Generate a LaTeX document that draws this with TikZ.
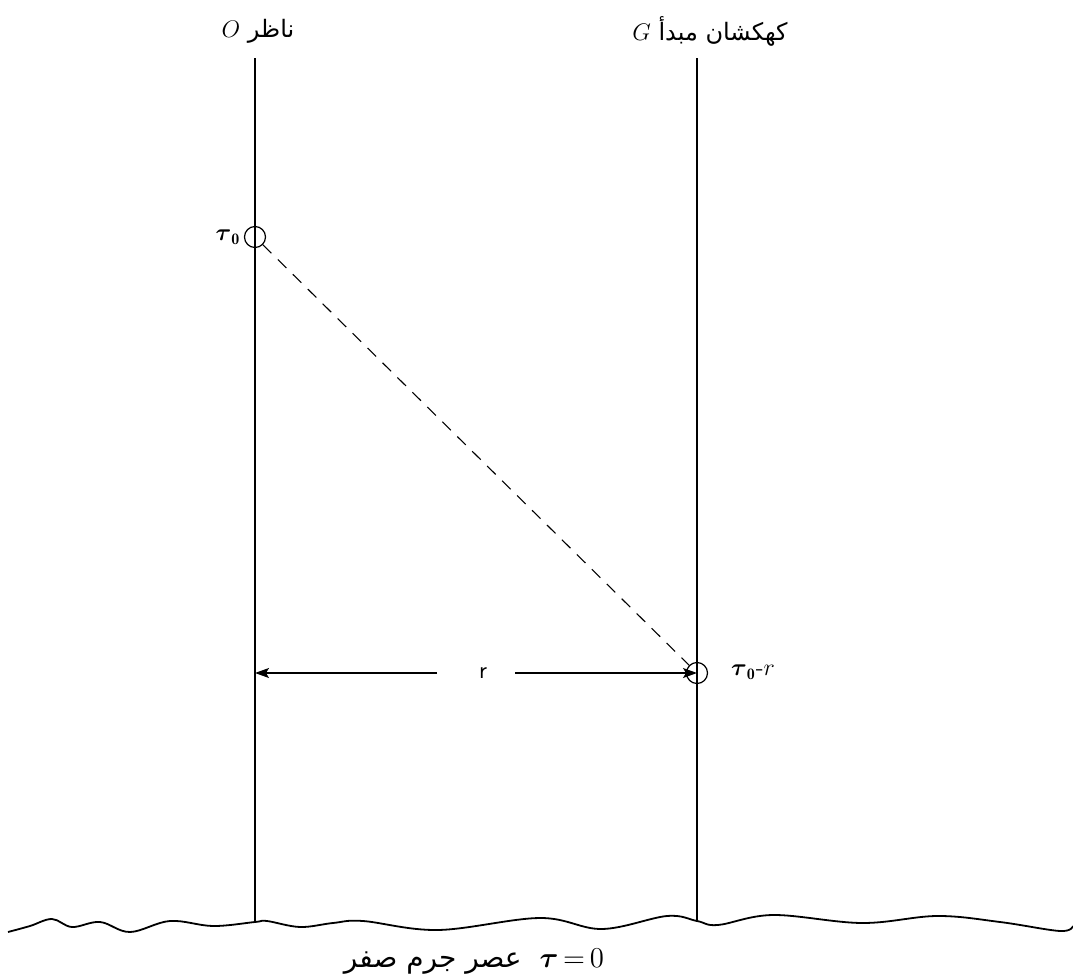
\documentclass[tikz,border=0pt]{standalone}
\usepackage{amsmath}
\usepackage{fontspec}
\newfontfamily\arabicfont[Script=Arabic]{DejaVu Sans}
\TeXXeTstate=1
\usetikzlibrary{arrows.meta}
\tikzset{
  worldline/.style={line width=0.6pt},
  eventpt/.style={circle, draw, line width=0.6pt, minimum size=10.5pt, inner sep=0pt},
  lightray/.style={dash pattern=on 6pt off 4.5pt, line width=0.55pt},
  distarrow/.style={-{Stealth[length=7pt,width=5pt,inset=1.5pt]}, line width=0.6pt},
  lbl/.style={inner sep=1pt},
  bigbang/.style={line width=0.9pt}
}
\begin{document}
\begin{tikzpicture}[x=0.5pt,y=-0.5pt,font=\fontsize{12}{14}\selectfont]
\useasboundingbox (0,0) rectangle (1073,980);
% world lines
\coordinate (oTop) at (255,58);
\coordinate (oBot) at (255,922);
\coordinate (gTop) at (697,58);
\coordinate (gBot) at (697,921);
\draw[worldline] (oTop) -- (oBot);
\draw[worldline] (gTop) -- (gBot);
% events
\node[eventpt] (e1) at (255,237) {};
\node[eventpt] (e2) at (697,673) {};
\draw[lightray] (e1) -- (e2);
% labels
\node[lbl] (lblO) at (258,31) {\arabicfont\beginR ناظر \beginL$O$\endL\endR};
\node[lbl] (lblG) at (710,31) {\arabicfont\beginR کهکشان مبدأ \beginL$G$\endL\endR};
\node[lbl] (t1) at (228,237) {$\boldsymbol{\tau}_{\mathbf{0}}$};
\node[lbl] (t2) at (753,672) {$\boldsymbol{\tau}_{\mathbf{0}}$-$r$};
% distance r
\node[lbl] (rlab) at (483,673) {\textsf{r}};
\coordinate (aL) at (255,673);
\coordinate (rL) at (437,673);
\coordinate (rR) at (515,673);
\draw[distarrow] (rL) -- (aL);
\draw[distarrow] (rR) -- (e2.center);
% big bang wavy line
\draw[bigbang] plot[smooth, tension=0.6] coordinates {
 (8,932) (30,926) (52,919) (72,927) (100,922) (130,932) (170,921) (213,926)
 (255,922) (267,921) (300,927) (333,923) (363,921) (438,930) (540,918)
 (602,929) (667,916) (697,921) (718,925) (773,915) (862,923) (937,916)
 (1000,922) (1060,931) (1073,926)};
\node[lbl] (bb) at (474,962) {\fontsize{12.5}{14}\arabicfont\beginR\beginL\fontsize{14}{16}\selectfont$\boldsymbol{\tau}{\,=\,}0$\endL\ \ عصر جرم صفر\endR};
\end{tikzpicture}
\end{document}
